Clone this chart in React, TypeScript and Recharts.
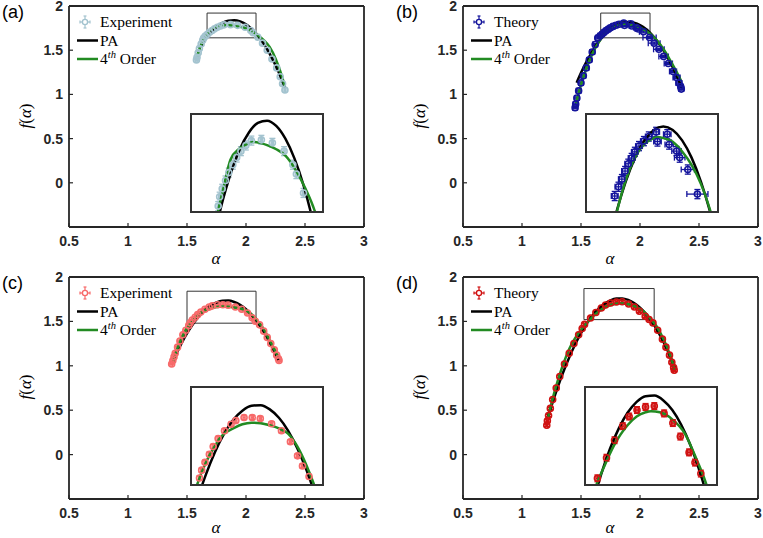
import React from 'react';
import { ComposedChart, Line, Scatter, ErrorBar, XAxis, YAxis, ReferenceArea } from 'recharts';

// ---- shared axis values ----
const xTicks = [0.5, 1, 1.5, 2, 2.5, 3];
const yTicks = [0, 0.5, 1, 1.5, 2];

// ---- (a) experiment ----
const aExpA = [1.58, 1.585, 1.595, 1.605, 1.62, 1.633, 1.641, 1.655, 1.673, 1.691, 1.713, 1.734, 1.757, 1.784, 1.814, 1.869, 1.929, 1.993, 2.041, 2.06, 2.099, 2.14, 2.18, 2.22, 2.26, 2.29, 2.31, 2.33];
const fExpA = [1.39, 1.42, 1.47, 1.52, 1.57, 1.613, 1.638, 1.659, 1.681, 1.702, 1.723, 1.742, 1.759, 1.774, 1.787, 1.789, 1.781, 1.759, 1.723, 1.698, 1.648, 1.58, 1.5, 1.4, 1.3, 1.2, 1.12, 1.05];
const exA = 0.006;
const eyA = 0.012;
const aPaA = [1.62, 1.66, 1.7, 1.75, 1.8, 1.85, 1.9, 1.95, 2.0, 2.05, 2.1, 2.15, 2.2, 2.25, 2.3, 2.33];
const fPaA = [1.553, 1.632, 1.698, 1.763, 1.808, 1.834, 1.84, 1.826, 1.792, 1.739, 1.667, 1.574, 1.462, 1.331, 1.179, 1.079];
const aFitA = [1.585, 1.6, 1.633, 1.66, 1.7, 1.75, 1.8, 1.83, 1.86, 1.9, 1.95, 2.0, 2.05, 2.1, 2.15, 2.2, 2.25, 2.3, 2.33];
const fFitA = [1.43, 1.49, 1.6, 1.657, 1.736, 1.766, 1.78, 1.783, 1.781, 1.775, 1.764, 1.747, 1.714, 1.669, 1.614, 1.537, 1.407, 1.224, 1.087];

// ---- (b) theory ----
const aThB = [1.45, 1.455, 1.465, 1.48, 1.5, 1.52, 1.545, 1.57, 1.595, 1.62, 1.642, 1.662, 1.68, 1.697, 1.714, 1.732, 1.749, 1.771, 1.797, 1.823, 1.862, 1.869, 1.921, 1.931, 1.97, 1.987, 2.03, 2.081, 2.12, 2.16, 2.2, 2.24, 2.28, 2.31, 2.33, 2.345, 2.35];
const fThB = [0.85, 0.89, 0.96, 1.04, 1.13, 1.21, 1.3, 1.39, 1.48, 1.565, 1.639, 1.663, 1.683, 1.704, 1.723, 1.738, 1.754, 1.769, 1.782, 1.794, 1.806, 1.781, 1.8, 1.773, 1.756, 1.739, 1.708, 1.644, 1.58, 1.51, 1.43, 1.35, 1.26, 1.19, 1.13, 1.09, 1.06];
const exB = [0.02, 0.02, 0.02, 0.02, 0.02, 0.02, 0.02, 0.02, 0.02, 0.02, 0.018, 0.018, 0.018, 0.018, 0.018, 0.018, 0.018, 0.018, 0.018, 0.018, 0.018, 0.02, 0.02, 0.022, 0.025, 0.028, 0.035, 0.056, 0.05, 0.045, 0.04, 0.035, 0.03, 0.03, 0.025, 0.02, 0.02];
const eyB = 0.012;
const aPaB = [1.463, 1.5, 1.55, 1.6, 1.65, 1.7, 1.75, 1.8, 1.85, 1.9, 1.95, 2.0, 2.05, 2.1, 2.15, 2.2, 2.25, 2.3, 2.353];
const fPaB = [1.132, 1.244, 1.379, 1.496, 1.595, 1.676, 1.739, 1.784, 1.811, 1.82, 1.811, 1.784, 1.739, 1.676, 1.595, 1.496, 1.379, 1.244, 1.082];
const aFitB = [1.458, 1.5, 1.55, 1.6, 1.65, 1.7, 1.75, 1.8, 1.85, 1.87, 1.9, 1.95, 2.0, 2.05, 2.1, 2.15, 2.2, 2.25, 2.3, 2.35];
const fFitB = [0.9, 1.11, 1.31, 1.47, 1.59, 1.68, 1.74, 1.775, 1.79, 1.792, 1.79, 1.78, 1.755, 1.72, 1.67, 1.6, 1.51, 1.4, 1.28, 1.15];

// ---- (c) experiment ----
const aExpC = [1.37, 1.38, 1.39, 1.4, 1.42, 1.44, 1.465, 1.49, 1.515, 1.527, 1.545, 1.569, 1.59, 1.617, 1.652, 1.688, 1.714, 1.759, 1.804, 1.848, 1.91, 1.964, 2.013, 2.052, 2.079, 2.115, 2.15, 2.18, 2.21, 2.24, 2.26, 2.275, 2.28];
const fExpC = [1.02, 1.06, 1.1, 1.14, 1.21, 1.28, 1.35, 1.4, 1.455, 1.485, 1.515, 1.546, 1.576, 1.606, 1.636, 1.661, 1.675, 1.687, 1.687, 1.683, 1.663, 1.636, 1.594, 1.54, 1.501, 1.461, 1.39, 1.32, 1.25, 1.18, 1.12, 1.08, 1.06];
const exC = 0.006;
const eyC = 0.008;
const aPaC = [1.384, 1.4, 1.45, 1.5, 1.55, 1.6, 1.65, 1.7, 1.75, 1.8, 1.85, 1.9, 1.95, 2.0, 2.05, 2.1, 2.15, 2.2, 2.25, 2.274];
const fPaC = [1.058, 1.106, 1.244, 1.365, 1.468, 1.555, 1.625, 1.678, 1.713, 1.732, 1.734, 1.718, 1.686, 1.637, 1.57, 1.487, 1.387, 1.27, 1.135, 1.065];
const aFitC = [1.384, 1.4, 1.45, 1.5, 1.554, 1.6, 1.625, 1.65, 1.7, 1.75, 1.8, 1.85, 1.9, 1.95, 2.0, 2.05, 2.1, 2.141, 2.2, 2.25, 2.274];
const fFitC = [1.046, 1.12, 1.3, 1.425, 1.52, 1.578, 1.606, 1.625, 1.645, 1.661, 1.667, 1.665, 1.657, 1.645, 1.625, 1.577, 1.505, 1.432, 1.29, 1.16, 1.096];

// ---- (d) theory ----
const aThD = [1.21, 1.215, 1.225, 1.24, 1.26, 1.29, 1.32, 1.36, 1.4, 1.44, 1.48, 1.51, 1.53, 1.581, 1.626, 1.672, 1.708, 1.752, 1.8, 1.849, 1.904, 1.953, 1.995, 2.044, 2.077, 2.11, 2.15, 2.19, 2.22, 2.25, 2.27, 2.285, 2.29];
const fThD = [0.33, 0.38, 0.44, 0.52, 0.62, 0.75, 0.88, 1.02, 1.14, 1.25, 1.35, 1.42, 1.466, 1.539, 1.601, 1.651, 1.685, 1.708, 1.719, 1.722, 1.696, 1.662, 1.614, 1.558, 1.522, 1.483, 1.4, 1.3, 1.21, 1.12, 1.04, 0.98, 0.95];
const exD = 0.008;
const eyD = 0.012;
const aPaD = [1.223, 1.25, 1.3, 1.35, 1.4, 1.45, 1.5, 1.55, 1.6, 1.65, 1.7, 1.75, 1.8, 1.85, 1.9, 1.95, 2.0, 2.05, 2.1, 2.15, 2.2, 2.25, 2.297];
const fPaD = [0.434, 0.549, 0.749, 0.931, 1.094, 1.24, 1.368, 1.478, 1.57, 1.643, 1.699, 1.737, 1.757, 1.759, 1.742, 1.708, 1.656, 1.586, 1.498, 1.391, 1.267, 1.125, 0.975];
const aFitD = [1.223, 1.25, 1.3, 1.35, 1.4, 1.45, 1.5, 1.526, 1.566, 1.621, 1.7, 1.75, 1.8, 1.83, 1.88, 1.95, 2.022, 2.086, 2.14, 2.2, 2.25, 2.297];
const fFitD = [0.427, 0.58, 0.82, 1.02, 1.19, 1.31, 1.405, 1.446, 1.505, 1.58, 1.655, 1.685, 1.7, 1.704, 1.7, 1.675, 1.623, 1.533, 1.446, 1.3, 1.14, 0.953];

const GREEN = '#228b22';
const AXIS = '#262626';
const PAD = 5; // extra room above each chart so the top tick label is not clipped

const points = (a: number[], f: number[], ex: number | number[], ey: number) =>
  a.map((v, i) => ({ a: v, f: f[i], ex: Array.isArray(ex) ? ex[i] : ex, ey }));
const curve = (a: number[], f: number[]) => a.map((v, i) => ({ a: v, f: f[i] }));

const panels = [
  {
    tag: '(a)', name: 'Experiment', color: '#a3c3cf', left: 0, top: 0, h: 267, xLab: 37,
    dots: points(aExpA, fExpA, exA, eyA), pa: curve(aPaA, fPaA), fit: curve(aFitA, fFitA),
    box: [1.67, 2.085, 1.64, 1.92], inset: [190, 113], ix: [1.49, 2.2], iy: [1.6, 1.855],
  },
  {
    tag: '(b)', name: 'Theory', color: '#14149c', left: 394, top: 0, h: 267, xLab: 37,
    dots: points(aThB, fThB, exB, eyB), pa: curve(aPaB, fPaB), fit: curve(aFitB, fFitB),
    box: [1.667, 2.085, 1.64, 1.92], inset: [191, 113], ix: [1.495, 2.185], iy: [1.6, 1.85],
  },
  {
    tag: '(c)', name: 'Experiment', color: '#f76a6a', left: 0, top: 271, h: 268, xLab: 34,
    dots: points(aExpC, fExpC, exC, eyC), pa: curve(aPaC, fPaC), fit: curve(aFitC, fFitC),
    box: [1.5, 2.085, 1.48, 1.84], inset: [190, 115], ix: [1.474, 2.186], iy: [1.432, 1.8],
  },
  {
    tag: '(d)', name: 'Theory', color: '#d01212', left: 394, top: 271, h: 268, xLab: 34,
    dots: points(aThD, fThD, exD, eyD), pa: curve(aPaD, fPaD), fit: curve(aFitD, fFitD),
    box: [1.525, 2.12, 1.52, 1.87], inset: [190, 115], ix: [1.466, 2.195], iy: [1.446, 1.786],
  },
];

type Panel = (typeof panels)[number];

const ring = (color: string) => (props: any) => (
  <circle cx={props.cx} cy={props.cy} r={3} fill="none" stroke={color} strokeWidth={1.6} />
);

function series(p: Panel) {
  return [
    <Scatter key="dots" data={p.dots} dataKey="f" shape={ring(p.color)} isAnimationActive={false}>
      <ErrorBar dataKey="ey" direction="y" width={3} stroke={p.color} strokeWidth={1.3} />
      <ErrorBar dataKey="ex" direction="x" width={3} stroke={p.color} strokeWidth={1.3} />
    </Scatter>,
    <Line key="pa" data={p.pa} dataKey="f" type="monotone" stroke="#000" strokeWidth={2.5} dot={false} isAnimationActive={false} />,
    <Line key="fit" data={p.fit} dataKey="f" type="monotone" stroke={GREEN} strokeWidth={2.5} dot={false} isAnimationActive={false} />,
  ];
}

const tickFont = { fontFamily: '"Liberation Sans", Arial, sans-serif', fontWeight: 700, fontSize: 14, fill: AXIS };
const axisLine = { stroke: AXIS, strokeWidth: 1.8 };
const tickLine = { stroke: AXIS, strokeWidth: 1.2 };
const serif = '"Liberation Serif", "Times New Roman", serif';

function PanelChart({ p }: { p: Panel }) {
  const plotTop = 6;
  const plotBottom = p.h - 40;
  return (
    <div style={{ position: 'absolute', left: p.left, top: p.top - PAD, width: 369, height: p.h + PAD }}>
      <ComposedChart width={369} height={p.h + PAD} margin={{ top: 5 + PAD, right: 4, bottom: 0, left: 0 }}>
        <XAxis dataKey="a" type="number" domain={[0.5, 3]} ticks={xTicks} interval={0} height={40}
          tickSize={-4} tickMargin={13} axisLine={axisLine} tickLine={tickLine} tick={tickFont} />
        <XAxis xAxisId="top" orientation="top" type="number" domain={[0.5, 3]} ticks={xTicks} interval={0}
          height={1} tickSize={-4} tick={false} axisLine={axisLine} tickLine={tickLine} />
        <YAxis dataKey="f" type="number" domain={[-0.5, 2]} ticks={yTicks} interval={0} width={69}
          tickSize={-4} tickMargin={10} axisLine={axisLine} tickLine={tickLine} tick={tickFont} />
        <YAxis yAxisId="right" orientation="right" type="number" domain={[-0.5, 2]} ticks={yTicks} interval={0}
          width={1} tickSize={-4} tick={false} axisLine={axisLine} tickLine={tickLine} />
        <ReferenceArea x1={p.box[0]} x2={p.box[1]} y1={p.box[2]} y2={p.box[3]} fill="none" fillOpacity={0}
          stroke="#333" strokeWidth={1} />
        {series(p)}
      </ComposedChart>

      <div style={{ position: 'absolute', left: p.inset[0], top: p.inset[1] + PAD, width: 134, height: 100,
        border: '2px solid #333', boxSizing: 'border-box', background: '#fff', overflow: 'hidden' }}>
        <ComposedChart width={130} height={96} margin={{ top: 0, right: 0, bottom: 0, left: 0 }}>
          <XAxis dataKey="a" type="number" domain={p.ix} allowDataOverflow hide />
          <YAxis dataKey="f" type="number" domain={p.iy} allowDataOverflow hide />
          {series(p)}
        </ComposedChart>
      </div>

      <svg width={369} height={p.h + PAD} style={{ position: 'absolute', left: 0, top: 0, pointerEvents: 'none', overflow: 'visible' }}>
        <g transform={`translate(0 ${PAD})`}>
          <text x={2} y={18} fontFamily='"Liberation Sans", Arial, sans-serif' fontSize={18} fill="#000">{p.tag}</text>
          <text x={216} y={plotBottom + p.xLab} textAnchor="middle" fontFamily={serif} fontStyle="italic" fontSize={17} fill="#000">α</text>
          <text x={31} y={116} transform="rotate(-90 31 116)" textAnchor="middle" fontFamily={serif} fontSize={17} fill="#000">
            <tspan fontStyle="italic">f</tspan>(<tspan fontStyle="italic">α</tspan>)
          </text>
          <g transform={`translate(69 ${plotTop})`} fontFamily={serif} fontSize={15.5} fill="#000">
            <g stroke={p.color} strokeWidth={1.2} fill="none">
              <circle cx={16} cy={16} r={2.6} strokeWidth={1.4} />
              <line x1={16} y1={10} x2={16} y2={13.4} />
              <line x1={16} y1={18.6} x2={16} y2={22} />
              <line x1={14.5} y1={10} x2={17.5} y2={10} />
              <line x1={14.5} y1={22} x2={17.5} y2={22} />
              <line x1={11} y1={16} x2={13.4} y2={16} />
              <line x1={18.6} y1={16} x2={21} y2={16} />
              <line x1={11} y1={14.5} x2={11} y2={17.5} />
              <line x1={21} y1={14.5} x2={21} y2={17.5} />
            </g>
            <text x={31} y={21}>{p.name}</text>
            <line x1={8} y1={34.5} x2={29} y2={34.5} stroke="#000" strokeWidth={2.5} />
            <text x={31} y={39.5}>PA</text>
            <line x1={8} y1={53} x2={29} y2={53} stroke={GREEN} strokeWidth={2.5} />
            <text x={31} y={58}>4<tspan fontStyle="italic" fontSize={10.5} dy={-6}>th</tspan><tspan dy={6}> Order</tspan></text>
          </g>
        </g>
      </svg>
    </div>
  );
}

export default function App() {
  return (
    <div style={{ position: 'absolute', left: 0, top: 0, width: 763, height: 538, background: '#fff' }}>
      {panels.map((p) => (
        <PanelChart key={p.tag} p={p} />
      ))}
    </div>
  );
}
